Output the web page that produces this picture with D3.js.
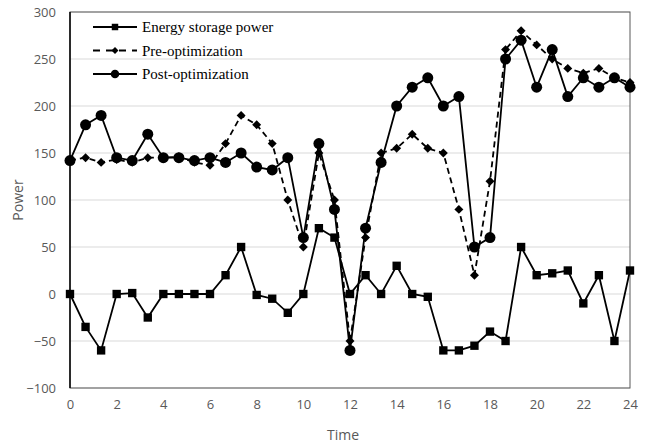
<!DOCTYPE html>
<html>
<head>
<meta charset="utf-8">
<script src="https://cdn.jsdelivr.net/npm/d3@7"></script>
<style>
  body { margin: 0; background: #fff; }
  svg { display: block; }
</style>
</head>
<body>
<div id="chart"></div>
<script>
// hours, one point every 40 minutes
const hours = d3.range(37).map(i => i * 2 / 3)

const storagePower = [0, -35, -60, 0, 1, -25, 0, 0, 0, 0, 20, 50, -1, -5, -20, 0, 70, 60, 0, 20, 0, 30, 0, -3,
    -60, -60, -55, -40, -50, 50, 20, 22, 25, -10, 20, -50, 25]
const preOpt = [142, 145, 140, 143, 140, 145, 145, 146, 140, 137, 160, 190, 180, 160, 100, 50, 150, 100, -50, 60,
    150, 155, 170, 155, 150, 90, 20, 120, 260, 280, 265, 250, 240, 235, 240, 230, 225]
const postOpt = [142, 180, 190, 145, 142, 170, 145, 145, 142, 145, 140, 150, 135, 132, 145, 60, 160, 90, -60, 70,
    140, 200, 220, 230, 200, 210, 50, 60, 250, 270, 220, 260, 210, 230, 220, 230, 220]

const seriesNames = ["Energy storage power", "Pre-optimization", "Post-optimization"]
const xTicks = [0, 2, 4, 6, 8, 10, 12, 14, 16, 18, 20, 22, 24]
const yTicks = [-100, -50, 0, 50, 100, 150, 200, 250, 300]

const width = 649, height = 443
const margin = {top: 12, right: 19, bottom: 55, left: 70}

const svg = d3.select("#chart").append("svg")
    .attr("width", width)
    .attr("height", height)

const x = d3.scaleLinear().domain([0, 24]).range([margin.left, width - margin.right])
const y = d3.scaleLinear().domain([-100, 300]).range([height - margin.bottom, margin.top])

// gridlines
svg.append("g")
    .selectAll("line")
    .data(yTicks)
    .enter().append("line")
    .attr("x1", x(0)).attr("x2", x(24))
    .attr("y1", d => y(d)).attr("y2", d => y(d))
    .attr("stroke", "#d9d9d9")
    .attr("stroke-width", 1)

// plot frame
svg.append("rect")
    .attr("x", x(0)).attr("y", y(300))
    .attr("width", x(24) - x(0))
    .attr("height", y(-100) - y(300))
    .attr("fill", "none")
    .attr("stroke", "#595959")
    .attr("stroke-width", 1)

svg.append("line")
    .attr("x1", x(0)).attr("x2", x(0))
    .attr("y1", y(300)).attr("y2", y(-100))
    .attr("stroke", "#000")
    .attr("stroke-width", 1.5)

const tickFont = "'Open Sans', sans-serif"

const yAxis = svg.append("g")
    .attr("transform", `translate(${x(0)},0)`)
    .call(d3.axisLeft(y).tickValues(yTicks).tickSize(0).tickPadding(14))
yAxis.select(".domain").remove()
yAxis.selectAll("text")
    .attr("font-family", tickFont)
    .attr("font-size", 13)
    .attr("fill", "#595959")

const xAxis = svg.append("g")
    .attr("transform", `translate(0,${y(-100)})`)
    .call(d3.axisBottom(x).tickValues(xTicks).tickSize(0).tickPadding(12))
xAxis.select(".domain").remove()
xAxis.selectAll("text")
    .attr("font-family", tickFont)
    .attr("font-size", 13)
    .attr("fill", "#595959")

svg.append("text")
    .attr("x", (x(0) + x(24)) / 2 - 7)
    .attr("y", 440)
    .attr("text-anchor", "middle")
    .attr("font-family", tickFont)
    .attr("font-size", 14)
    .attr("fill", "#595959")
    .text("Time")

svg.append("text")
    .attr("transform", `translate(23,${(y(300) + y(-100)) / 2}) rotate(-90)`)
    .attr("text-anchor", "middle")
    .attr("font-family", tickFont)
    .attr("font-size", 14)
    .attr("fill", "#595959")
    .text("Power")

const line = d3.line()
    .x(d => x(d[0]))
    .y(d => y(d[1]))

// diamonds are squares turned 45 degrees
const series = [
    {name: seriesNames[0], values: storagePower, dash: null, symbol: d3.symbolSquare, size: 70, rot: 0},
    {name: seriesNames[1], values: preOpt, dash: "6,4", symbol: d3.symbolSquare, size: 40, rot: 45},
    {name: seriesNames[2], values: postOpt, dash: null, symbol: d3.symbolCircle, size: 95, rot: 0}
]

series.forEach(s => {
    const pts = hours.map((h, i) => [h, s.values[i]])
    svg.append("path")
        .datum(pts)
        .attr("d", line)
        .attr("fill", "none")
        .attr("stroke", "#000")
        .attr("stroke-width", 1.8)
        .attr("stroke-dasharray", s.dash)
    svg.append("g")
        .selectAll("path")
        .data(pts)
        .enter().append("path")
        .attr("transform", d => `translate(${x(d[0])},${y(d[1])}) rotate(${s.rot})`)
        .attr("d", d3.symbol().type(s.symbol).size(s.size))
        .attr("fill", "#000")
})

// legend
const legend = svg.append("g")
series.forEach((s, i) => {
    const ly = 27 + i * 23.5
    legend.append("line")
        .attr("x1", 93).attr("x2", 137)
        .attr("y1", ly).attr("y2", ly)
        .attr("stroke", "#000")
        .attr("stroke-width", 1.8)
        .attr("stroke-dasharray", s.dash ? "7,6" : null)
    legend.append("path")
        .attr("transform", `translate(115,${ly}) rotate(${s.rot})`)
        .attr("d", d3.symbol().type(s.symbol).size(s.size * 0.6))
        .attr("fill", "#000")
    legend.append("text")
        .attr("x", 142)
        .attr("y", ly + 5)
        .attr("font-family", "'Liberation Serif', 'Times New Roman', serif")
        .attr("font-size", 15)
        .attr("fill", "#000")
        .text(s.name)
})
</script>
</body>
</html>
